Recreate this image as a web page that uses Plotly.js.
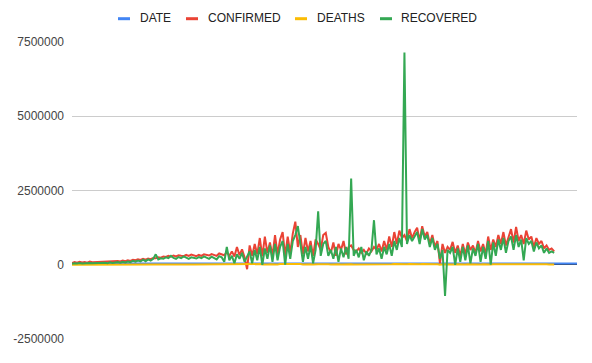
<!DOCTYPE html>
<html>
<head>
<meta charset="utf-8">
<script src="https://cdn.plot.ly/plotly-3.0.1.min.js"></script>
<style>html,body{margin:0;padding:0;background:#fff}#chart{width:592px;height:363px}</style>
</head>
<body>
<div id="chart"></div>
<script>
// Series names
const SERIES = ["DATE", "CONFIRMED", "DEATHS", "RECOVERED"];
const COLORS = ["#4285F4", "#EA4335", "#FBBC04", "#34A853"];
const Y_TICKS = [-2500000, 0, 2500000, 5000000, 7500000];

// DATE column (spreadsheet date serials)
const DATE = [
43891,43892,43893,43894,43895,43896,43897,43898,43899,43900,
43901,43902,43903,43904,43905,43906,43907,43908,43909,43910,
43911,43912,43913,43914,43915,43916,43917,43918,43919,43920,
43921,43922,43923,43924,43925,43926,43927,43928,43929,43930,
43931,43932,43933,43934,43935,43936,43937,43938,43939,43940,
43941,43942,43943,43944,43945,43946,43947,43948,43949,43950,
43951,43952,43953,43954,43955,43956,43957,43958,43959,43960,
43961,43962,43963,43964,43965,43966,43967,43968,43969,43970,
43971,43972,43973,43974,43975,43976,43977,43978,43979,43980,
43981,43982,43983,43984,43985,43986,43987,43988,43989,43990,
43991,43992,43993,43994,43995,43996,43997,43998,43999,44000,
44001,44002,44003,44004,44005,44006,44007,44008,44009,44010,
44011,44012,44013,44014,44015,44016,44017,44018,44019,44020,
44021,44022,44023,44024,44025,44026,44027,44028,44029,44030,
44031,44032,44033,44034,44035,44036,44037,44038,44039,44040,
44041,44042,44043,44044,44045,44046,44047,44048,44049,44050,
44051,44052,44053,44054,44055,44056,44057,44058,44059,44060,
44061,44062,44063,44064,44065,44066,44067,44068,44069,44070,
44071,44072,44073,44074,44075,44076,44077,44078,44079,44080,
44081,44082,44083,44084,44085,44086,44087,44088,44089,44090
];

// CONFIRMED, thousands
const CONFIRMED_K = [
60,90,70,100,80,95,70,105,85,90,
75,100,95,110,90,120,100,115,130,110,
140,120,150,130,170,150,180,160,200,170,
210,190,230,220,250,240,280,260,300,270,
310,280,320,300,290,330,300,340,310,290,
330,300,350,320,310,360,330,300,380,340,
320,420,300,450,280,600,320,520,250,-150,
650,300,700,350,900,280,950,400,750,300,
1000,350,850,1100,300,950,400,1050,1450,600,
1000,350,900,450,800,300,850,700,500,1000,
1070,600,400,750,300,700,500,800,350,600,
650,500,450,550,400,500,380,550,450,600,
500,700,450,800,500,950,600,1100,700,1150,
900,1000,800,1200,900,1100,1250,800,1300,950,
1100,700,1000,600,800,50,700,400,600,500,
770,400,650,300,700,350,750,500,650,400,
800,450,700,350,950,500,850,600,1000,700,
1100,650,950,1200,750,1270,800,1000,700,1150,
850,950,600,900,700,800,550,650,500,550,
450
];

// DEATHS, thousands
const DEATHS_K = [
1,2,1,2,2,3,2,3,2,3,
3,4,3,4,3,5,4,5,4,6,
5,6,5,7,6,7,6,8,7,8,
7,9,8,9,8,10,9,10,9,11,
10,11,9,12,10,11,9,12,10,11,
10,12,9,13,10,12,9,14,10,13,
8,15,9,16,8,18,10,17,9,12,
19,8,20,10,22,7,21,11,20,9,
23,10,22,24,8,21,12,23,25,14,
22,9,20,12,19,8,21,18,13,22,
24,14,11,18,9,17,12,19,10,15,
16,12,11,14,10,13,9,14,11,15,
12,17,11,18,12,20,14,22,16,23,
20,22,18,25,20,24,26,18,27,21,
24,16,22,14,18,3,16,10,14,12,
17,10,15,8,16,9,17,12,15,10,
18,11,16,9,20,12,19,14,21,16,
23,15,20,25,17,26,18,21,16,24,
19,20,14,19,16,18,13,15,12,13,
11
];

// RECOVERED, thousands
const RECOVERED_K = [
30,50,40,60,45,55,40,60,50,55,
45,60,55,70,50,80,60,75,90,70,
100,80,110,90,130,100,140,110,170,120,
180,140,200,350,180,220,200,250,220,300,
230,200,260,220,280,240,200,250,230,210,
260,220,280,240,200,270,230,180,290,250,
100,600,150,300,50,350,200,400,100,300,
450,50,500,150,600,0,550,200,650,100,
700,150,600,800,0,700,200,800,1000,1300,
700,100,600,200,650,50,500,1800,300,700,
800,300,500,200,600,100,550,250,600,200,
2900,300,500,250,600,150,450,300,500,1500,
350,550,200,600,350,700,300,800,500,900,
600,7150,700,1000,800,950,1100,700,1200,850,
1000,600,900,500,700,200,500,-1050,500,400,
600,0,550,100,600,150,650,50,550,300,
700,100,600,200,800,0,750,300,850,500,
900,400,800,950,500,1000,600,850,150,900,
700,800,450,750,550,650,400,550,400,450,
400
];

const X_ALL = DATE.map((_, i) => i);
const toUnits = arr => arr.map(v => v * 1000);
const seriesData = [DATE, toUnits(CONFIRMED_K), toUnits(DEATHS_K), toUnits(RECOVERED_K)];

const traces = SERIES.map((name, k) => ({
  type: "scatter",
  mode: "lines",
  name: name,
  x: X_ALL.slice(0, seriesData[k].length),
  y: seriesData[k],
  line: {color: COLORS[k], width: 2},
  hoverinfo: "skip",
  showlegend: false
}));

// custom legend (Google-style short markers)
const L = 72, W = 505, TOP = 42, H = 297;
const legendPos = [
  {m: 118, t: 139},
  {m: 186, t: 207},
  {m: 295, t: 316},
  {m: 380, t: 400}
];
const py = v => (TOP + H - v) / H;
const shapes = [];
const annotations = [];
legendPos.forEach((p, k) => {
  shapes.push({
    type: "rect", xref: "paper", yref: "paper",
    x0: (p.m - L) / W, x1: (p.m + 12 - L) / W,
    y0: py(20.2), y1: py(17.2),
    fillcolor: COLORS[k], line: {width: 0}
  });
  annotations.push({
    xref: "paper", yref: "paper",
    x: (p.t - L) / W, y: py(17.8),
    xanchor: "left", yanchor: "middle",
    text: SERIES[k], showarrow: false,
    borderpad: 0,
    font: {family: "Liberation Sans, Arial, sans-serif", size: 12, color: "#222"}
  });
});

const layout = {
  width: 592, height: 363,
  margin: {l: 72, r: 15, t: 42, b: 24, pad: 0},
  paper_bgcolor: "#fff", plot_bgcolor: "#fff",
  showlegend: false,
  xaxis: {
    range: [0, DATE.length - 1],
    showgrid: false, zeroline: false, showticklabels: false,
    showline: false, ticks: ""
  },
  yaxis: {
    range: [-2500000, 7500000],
    tickvals: Y_TICKS,
    ticktext: Y_TICKS.map(String),
    showgrid: true, gridcolor: "#cccccc", gridwidth: 1,
    zeroline: true, zerolinecolor: "#333333", zerolinewidth: 1,
    showline: false, ticks: "",
    ticklabelstandoff: 7,
    tickfont: {family: "Liberation Sans, Arial, sans-serif", size: 12, color: "#444"}
  },
  shapes: shapes,
  annotations: annotations
};

Plotly.newPlot("chart", traces, layout, {staticPlot: true, displayModeBar: false});
</script>
</body>
</html>
